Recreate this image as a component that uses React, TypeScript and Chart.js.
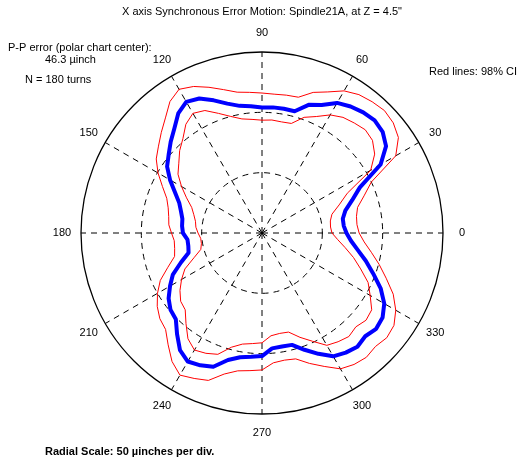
import React, { useEffect, useRef } from 'react';
import { Chart, registerables } from 'chart.js';

Chart.register(...registerables);

// Angles (degrees, counter-clockwise from the right, MATLAB polar convention)
const ANGLES = [
  0, 5, 10, 15, 20, 25, 30, 35, 40, 45, 50, 55, 60, 65, 70, 75, 80, 85,
  90, 95, 100, 105, 110, 115, 120, 125, 130, 135, 140, 145, 150, 155, 160, 165, 170, 175,
  180, 185, 190, 195, 200, 205, 210, 215, 220, 225, 230, 235, 240, 245, 250, 255, 260, 265,
  270, 275, 280, 285, 290, 295, 300, 305, 310, 315, 320, 325, 330, 335, 340, 345, 350, 355,
];

// Synchronous error motion (µinch from polar chart center)
const ERROR_MOTION = [
  70, 68, 68, 71.5, 79.5, 89.5, 113.5, 125.5, 130.5, 132, 130.5, 128, 124.5, 117, 113, 104.5, 104.5, 104.5,
  104, 105.5, 107, 111, 117, 123, 125.5, 121, 113, 107, 101, 96, 88, 79.5, 73, 69.5, 67, 66.5,
  65.5, 62, 62, 63, 71.5, 81.5, 88, 94.5, 99, 101, 109.5, 118.5, 123, 121, 118, 109, 104.5, 103,
  102, 96, 95.5, 96, 103, 110.5, 118, 121, 123, 121, 123.5, 122, 117, 108.5, 98, 89, 80.5, 74,
];

// 98% confidence interval bounds
const CI_UPPER = [
  80.5, 79, 79.5, 82, 90, 100, 128, 138, 142, 143.5, 142, 140, 136, 129, 124, 116.5, 116, 115.5,
  116, 117, 118.5, 123, 128.5, 134, 137.5, 133, 124.5, 118, 112, 107, 99.5, 91, 84, 80.5, 78.5, 77.5,
  75, 73, 73.5, 75, 83, 93, 100, 106, 110.5, 113, 121, 130, 136, 133, 130, 121, 116, 114.5,
  113.5, 108, 107, 108, 115, 122, 130, 133, 134.5, 133, 135, 133.5, 128, 120, 109.5, 100.5, 92, 85,
];

const CI_LOWER = [
  58, 57, 57.5, 60, 68, 78, 104, 114, 119.5, 121, 119, 117, 113, 106.5, 102, 94, 93.5, 94,
  93.5, 94.5, 96, 100, 105.5, 112, 114.5, 110, 102, 96.5, 90, 85, 77, 69, 62, 58.5, 56, 55,
  53, 51, 51, 52.5, 60, 70.5, 77, 83, 88, 90, 98, 107, 112, 110, 107, 98, 93.5, 92,
  91, 85.5, 84.5, 85, 92, 99, 107.5, 110, 112, 110, 112.5, 111, 103.5, 97, 87, 78.5, 70, 63,
];

const ANGLE_TICKS = [0, 30, 60, 90, 120, 150, 180, 210, 240, 270, 300, 330];
const RADIAL_STEP = 50;
const RADIAL_MAX = 150;

const TITLE = 'X axis Synchronous Error Motion: Spindle21A, at Z = 4.5"';
const PP_LINE1 = 'P-P error (polar chart center):';
const PP_LINE2 = '46.3 \u00B5inch';
const TURNS = 'N = 180 turns';
const CI_NOTE = 'Red lines: 98% CI';
const SCALE_NOTE = 'Radial Scale: 50 \u00B5inches per div.';

// Radar charts run clockwise; reorder so angles run counter-clockwise from the right.
function toRadarOrder<T>(arr: T[]): T[] {
  const n = arr.length;
  return arr.map((_, j) => arr[(n - j) % n]);
}

const FONT = '"Liberation Sans", Arial, Helvetica, sans-serif';

const polarText = {
  id: 'polarText',
  afterDraw(chart: any) {
    const ctx = chart.ctx as CanvasRenderingContext2D;
    const r = chart.scales.r;
    ctx.save();
    ctx.fillStyle = '#000';
    ctx.font = `11px ${FONT}`;
    ctx.textAlign = 'center';
    ctx.textBaseline = 'middle';
    (chart.data.labels as number[]).forEach((lab, j) => {
      if (ANGLE_TICKS.includes(Number(lab))) {
        const p = r.getPointPosition(j, r.drawingArea + 19);
        ctx.fillText(String(lab), p.x, p.y);
      }
    });
    ctx.fillText(TITLE, 262, 12);
    ctx.textAlign = 'left';
    ctx.fillText(PP_LINE1, 8, 48);
    ctx.fillText(PP_LINE2, 45, 60);
    ctx.fillText(TURNS, 25, 80);
    ctx.textAlign = 'right';
    ctx.fillText(CI_NOTE, 517, 72);
    ctx.textAlign = 'left';
    ctx.font = `bold 11px ${FONT}`;
    ctx.fillText(SCALE_NOTE, 45, 452);
    ctx.restore();
  },
};

export default function App() {
  const canvasRef = useRef<HTMLCanvasElement | null>(null);

  useEffect(() => {
    if (!canvasRef.current) return;
    const chart = new Chart(canvasRef.current, {
      type: 'radar',
      data: {
        labels: toRadarOrder(ANGLES),
        datasets: [
          {
            label: 'Error motion',
            data: toRadarOrder(ERROR_MOTION),
            borderColor: '#0000ff',
            borderWidth: 4,
            borderJoinStyle: 'round',
            pointRadius: 0,
            fill: false,
          },
          {
            label: 'CI upper',
            data: toRadarOrder(CI_UPPER),
            borderColor: '#ff0000',
            borderWidth: 1,
            pointRadius: 0,
            fill: false,
          },
          {
            label: 'CI lower',
            data: toRadarOrder(CI_LOWER),
            borderColor: '#ff0000',
            borderWidth: 1,
            pointRadius: 0,
            fill: false,
          },
        ],
      },
      options: {
        responsive: false,
        animation: false,
        devicePixelRatio: 1,
        layout: { padding: { left: 81, top: 52, right: 76, bottom: 52 } },
        plugins: {
          legend: { display: false },
          tooltip: { enabled: false },
          title: { display: false },
        },
        elements: { line: { tension: 0 } },
        scales: {
          r: {
            min: 0,
            max: RADIAL_MAX,
            startAngle: 90,
            ticks: { display: false, stepSize: RADIAL_STEP },
            pointLabels: { display: false },
            grid: {
              circular: true,
              color: '#000',
              lineWidth: (c: any) => (c.tick && c.tick.value === RADIAL_MAX ? 1.3 : 1),
            },
            border: {
              dash: (c: any) => (c.tick && c.tick.value === RADIAL_MAX ? [] : [6, 5]),
            },
            angleLines: {
              display: true,
              color: '#000',
              lineWidth: (c: any) => (ANGLE_TICKS.includes(Number(c.label)) ? 1 : 0),
              borderDash: [6, 5],
            },
          },
        },
      } as any,
      plugins: [polarText],
    });
    return () => chart.destroy();
  }, []);

  return (
    <div style={{ position: 'fixed', left: 0, top: 0, width: 519, height: 466, background: '#fff' }}>
      <canvas ref={canvasRef} width={519} height={466} style={{ display: 'block' }} />
    </div>
  );
}
